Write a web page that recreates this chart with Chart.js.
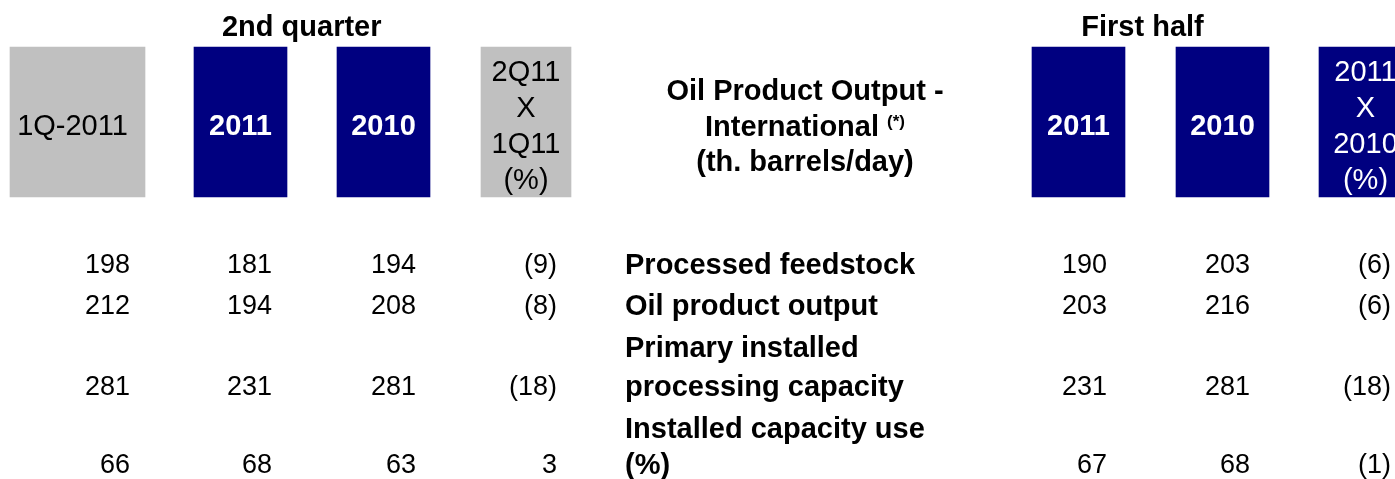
<!DOCTYPE html>
<html>
<head>
<meta charset="utf-8">
<title>Oil Product Output - International</title>
<script src="https://cdn.jsdelivr.net/npm/chart.js@4.4.1/dist/chart.umd.min.js"></script>
<style>
    html, body { margin: 0; padding: 0; background: #ffffff; }
    #wrap { width: 1395px; height: 479px; }
</style>
</head>
<body>
<div id="wrap"><canvas id="table" width="1395" height="479"></canvas></div>
<script>
// Data (th. barrels/day)
const groupTitles = ['2nd quarter', 'First half'];
const columnHeads = ['1Q-2011', '2011', '2010', '2Q11\nX\n1Q11\n(%)', '2011', '2010', '2011\nX\n2010\n(%)'];
const tableTitle = ['Oil Product Output -', 'International', '(th. barrels/day)'];
const rowLabels = [['Processed feedstock'], ['Oil product output'], ['Primary installed', 'processing capacity'], ['Installed capacity use', '(%)']];

const q1_2011 = [198, 212, 281, 66];
const q2_2011 = [181, 194, 231, 68];
const q2_2010 = [194, 208, 281, 63];
const q2Change = [-9, -8, -18, 3];
const h1_2011 = [190, 203, 231, 67];
const h1_2010 = [203, 216, 281, 68];
const h1Change = [-6, -6, -18, -1];

// Layout (axis units = page pixels)
const FONT = '"Liberation Sans", Arial, Helvetica, sans-serif';
const GRAY = '#c0c0c0';
const NAVY = '#000080';
const colCenter = [77.5, 240.5, 383.5, 526, 1078.5, 1222.5, 1365.5];
const colRight = [130, 272, 416, 557, 1107, 1250, 1391];
const colWidth = [135, 93, 93, 90, 93, 93, 93];
const colFill = [GRAY, NAVY, NAVY, GRAY, NAVY, NAVY, NAVY];
const headTop = 47, headBottom = 197, headMid = 124;
const lineY = [[266], [307], [349], [388], [430], [466]];
const rowLines = [[0], [1], [2, 3], [4, 5]];
const labelX = 625;

const columns = [q1_2011, q2_2011, q2_2010, q2Change, h1_2011, h1_2010, h1Change];
const isChange = [false, false, false, true, false, false, true];

function fmt(v, change) {
    if (change && v < 0) return '(' + (-v) + ')';
    return String(v);
}

// One floating bar per header box, each in its own dataset so widths differ
const boxDatasets = columnHeads.map((head, i) => ({
    label: head.replace(/\n/g, ' '),
    data: [{ x: colCenter[i], y: [headTop, headBottom] }],
    backgroundColor: colFill[i],
    barThickness: colWidth[i],
    grouped: false,
    borderWidth: 0
}));

const tableText = {
    id: 'tableText',
    afterDatasetsDraw(chart) {
        const ctx = chart.ctx;
        const xs = chart.scales.x;
        const ys = chart.scales.y;
        const px = v => xs.getPixelForValue(v);
        const py = v => ys.getPixelForValue(v);
        ctx.save();
        ctx.textBaseline = 'middle';

        // 1. Group titles
        ctx.fillStyle = '#000000';
        ctx.font = 'bold 29px ' + FONT;
        ctx.textAlign = 'center';
        ctx.fillText(groupTitles[0], px((colCenter[0] + colCenter[3]) / 2), py(28));
        ctx.fillText(groupTitles[1], px((colCenter[4] + colCenter[5]) / 2 - 8), py(28));

        // 2. Column heads inside the boxes
        columnHeads.forEach((head, i) => {
            const lines = head.split('\n');
            const dark = colFill[i] === NAVY;
            ctx.fillStyle = dark ? '#ffffff' : '#000000';
            const bold = dark && lines.length === 1;
            ctx.font = (bold ? 'bold 29px ' : '29px ') + FONT;
            const lh = 36;
            const y0 = headMid + 3 - (lines.length - 1) * lh / 2;
            const cx = i === 0 ? colCenter[i] - 5 : colCenter[i];
            lines.forEach((ln, k) => ctx.fillText(ln, px(cx), py(y0 + k * lh)));
        });

        // 3. Table title with (*) note
        ctx.fillStyle = '#000000';
        ctx.font = 'bold 29px ' + FONT;
        const titleX = 805;
        const titleY = [92, 128, 163];
        ctx.fillText(tableTitle[0], px(titleX), py(titleY[0]));
        const w1 = ctx.measureText(tableTitle[1] + ' ').width;
        ctx.font = 'bold 17px ' + FONT;
        const wn = ctx.measureText('(*)').width;
        const startX = titleX - (w1 + wn) / 2;
        ctx.textAlign = 'left';
        ctx.fillText('(*)', px(startX + w1), py(titleY[1] - 6));
        ctx.font = 'bold 29px ' + FONT;
        ctx.fillText(tableTitle[1], px(startX), py(titleY[1]));
        ctx.textAlign = 'center';
        ctx.fillText(tableTitle[2], px(titleX), py(titleY[2]));

        // 4. Row labels
        ctx.textAlign = 'left';
        rowLabels.forEach((lines, r) => {
            lines.forEach((ln, k) => ctx.fillText(ln, px(labelX), py(lineY[rowLines[r][k]])));
        });

        // 5. Values, right aligned, on the last line of each row
        ctx.font = '27px ' + FONT;
        ctx.textAlign = 'right';
        columns.forEach((vals, c) => {
            vals.forEach((v, r) => {
                const last = rowLines[r][rowLines[r].length - 1];
                ctx.fillText(fmt(v, isChange[c]), px(colRight[c]), py(lineY[last]));
            });
        });
        ctx.restore();
    }
};

document.addEventListener('DOMContentLoaded', () => {
    new Chart(document.getElementById('table'), {
        type: 'bar',
        data: { datasets: boxDatasets },
        options: {
            responsive: false,
            animation: false,
            devicePixelRatio: 1,
            layout: { padding: 0 },
            plugins: { legend: { display: false }, tooltip: { enabled: false } },
            scales: {
                x: { type: 'linear', min: 0, max: 1395, offset: false, display: false },
                y: { type: 'linear', min: 0, max: 479, reverse: true, display: false }
            }
        },
        plugins: [tableText]
    });
});
</script>
</body>
</html>
